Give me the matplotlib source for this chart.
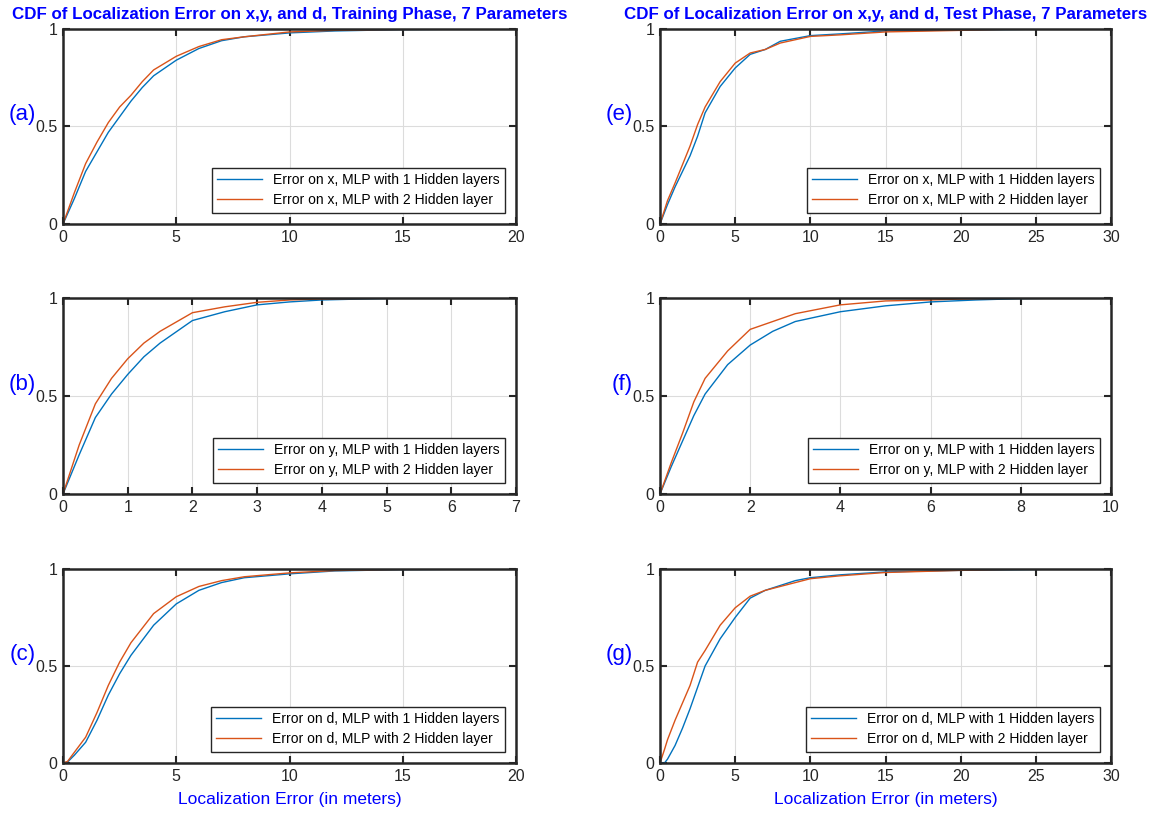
import matplotlib
matplotlib.use('Agg')
import matplotlib.pyplot as plt

plt.rcParams['font.family'] = ['Liberation Sans', 'DejaVu Sans']

# ---- data (CDF points) ----
# (a) training, error on x
a_x1 = [0, 0.5, 1, 1.5, 2, 2.5, 3, 3.5, 4, 5, 6, 7, 8, 10, 12, 15, 18.8]
a_y1 = [0, 0.13, 0.27, 0.37, 0.47, 0.55, 0.63, 0.70, 0.76, 0.84, 0.90, 0.94, 0.96, 0.98, 0.99, 0.997, 1.0]
a_x2 = [0, 0.5, 1, 1.5, 2, 2.5, 3, 3.5, 4, 5, 6, 7, 8, 10, 12, 15, 19.0]
a_y2 = [0, 0.16, 0.31, 0.42, 0.52, 0.60, 0.66, 0.73, 0.79, 0.86, 0.91, 0.945, 0.96, 0.985, 0.993, 0.998, 1.0]

# (b) training, error on y
b_x1 = [0, 0.25, 0.5, 0.75, 1, 1.25, 1.5, 2, 2.5, 3, 3.5, 4, 5, 6, 6.9]
b_y1 = [0, 0.20, 0.39, 0.51, 0.61, 0.70, 0.77, 0.885, 0.93, 0.965, 0.98, 0.99, 0.998, 1.0, 1.0]
b_x2 = [0, 0.25, 0.5, 0.75, 1, 1.25, 1.5, 2, 2.5, 3, 3.5, 4, 5, 6, 7]
b_y2 = [0, 0.25, 0.46, 0.59, 0.69, 0.77, 0.83, 0.925, 0.955, 0.978, 0.99, 0.995, 0.999, 1.0, 1.0]

# (c) training, error on d
c_x1 = [0, 0.2, 0.5, 1, 1.5, 2, 2.5, 3, 4, 5, 6, 7, 8, 10, 12, 15, 19.2]
c_y1 = [0, 0.005, 0.04, 0.107, 0.22, 0.35, 0.46, 0.555, 0.71, 0.82, 0.89, 0.93, 0.955, 0.975, 0.99, 0.997, 1.0]
c_x2 = [0, 0.2, 0.5, 1, 1.5, 2, 2.5, 3, 4, 5, 6, 7, 8, 10, 12, 15, 19.2]
c_y2 = [0, 0.008, 0.055, 0.133, 0.26, 0.40, 0.52, 0.62, 0.77, 0.857, 0.91, 0.94, 0.96, 0.98, 0.992, 0.998, 1.0]

# (e) test, error on x
e_x1 = [0, 0.5, 1, 2, 2.5, 3, 4, 5, 6, 7, 8, 10, 12, 15, 20, 26.3]
e_y1 = [0, 0.10, 0.19, 0.35, 0.45, 0.57, 0.705, 0.80, 0.87, 0.895, 0.937, 0.966, 0.975, 0.99, 0.995, 1.0]
e_x2 = [0, 0.5, 1, 2, 2.5, 3, 4, 5, 6, 7, 8, 10, 12, 15, 20, 23.8]
e_y2 = [0, 0.12, 0.21, 0.40, 0.51, 0.60, 0.73, 0.825, 0.877, 0.895, 0.928, 0.962, 0.97, 0.985, 0.993, 1.0]

# (f) test, error on y
f_x1 = [0, 0.25, 0.5, 0.75, 1, 1.5, 2, 2.5, 3, 4, 5, 6, 7, 8, 9.15]
f_y1 = [0, 0.14, 0.27, 0.40, 0.51, 0.66, 0.76, 0.83, 0.88, 0.93, 0.96, 0.98, 0.99, 0.997, 1.0]
f_x2 = [0, 0.25, 0.5, 0.75, 1, 1.5, 2, 2.5, 3, 4, 5, 6, 7, 8.3]
f_y2 = [0, 0.16, 0.31, 0.47, 0.59, 0.73, 0.84, 0.88, 0.92, 0.965, 0.985, 0.99, 0.997, 1.0]

# (g) test, error on d
g_x1 = [0, 0.3, 0.5, 1, 1.5, 2, 2.5, 3, 4, 5, 6, 7, 8, 9, 10, 12, 15, 20, 27.1]
g_y1 = [0, 0.0, 0.02, 0.09, 0.18, 0.28, 0.39, 0.50, 0.64, 0.75, 0.85, 0.89, 0.915, 0.94, 0.955, 0.97, 0.985, 0.993, 1.0]
g_x2 = [0, 0.3, 0.5, 1, 1.5, 2, 2.5, 3, 4, 5, 6, 7, 8, 9, 10, 12, 15, 20, 24.6]
g_y2 = [0, 0.07, 0.12, 0.22, 0.31, 0.40, 0.52, 0.58, 0.71, 0.80, 0.86, 0.89, 0.91, 0.93, 0.95, 0.965, 0.982, 0.993, 1.0]

panels = [
    ('a', 'x', a_x1, a_y1, a_x2, a_y2, 20, [0, 5, 10, 15, 20]),
    ('b', 'y', b_x1, b_y1, b_x2, b_y2, 7, [0, 1, 2, 3, 4, 5, 6, 7]),
    ('c', 'd', c_x1, c_y1, c_x2, c_y2, 20, [0, 5, 10, 15, 20]),
    ('e', 'x', e_x1, e_y1, e_x2, e_y2, 30, [0, 5, 10, 15, 20, 25, 30]),
    ('f', 'y', f_x1, f_y1, f_x2, f_y2, 10, [0, 2, 4, 6, 8, 10]),
    ('g', 'd', g_x1, g_y1, g_x2, g_y2, 30, [0, 5, 10, 15, 20, 25, 30]),
]

titles = ['CDF of Localization Error on x,y, and d, Training Phase, 7 Parameters',
          'CDF of Localization Error on x,y, and d, Test Phase, 7 Parameters']

BLUE = '#0072BD'
ORANGE = '#D95319'

W, H = 1155, 822
fig = plt.figure(figsize=(W / 100, H / 100), dpi=100)

# axes rectangles in pixels: (left, right) / (top, bottom)
col_px = [(63, 516), (660, 1111)]
row_px = [(29, 224), (298, 494), (569, 763)]

for i, (tag, var, x1, y1, x2, y2, xmax, xt) in enumerate(panels):
    col, row = divmod(i, 3)
    l, r = col_px[col]
    t, b = row_px[row]
    ax = fig.add_axes([l / W, 1 - b / H, (r - l) / W, (b - t) / H])
    ax.plot(x1, y1, color=BLUE, lw=1.0, label=f'Error on {var}, MLP with 1 Hidden layers')
    ax.plot(x2, y2, color=ORANGE, lw=1.0, label=f'Error on {var}, MLP with 2 Hidden layer')
    ax.set_xlim(0, xmax)
    ax.set_ylim(0, 1)
    ax.set_xticks(xt)
    ax.set_yticks([0, 0.5, 1])
    ax.set_yticklabels(['0', '0.5', '1'])
    ax.grid(True, color='#dcdcdc', lw=0.8)
    ax.tick_params(direction='in', top=True, right=True, labelsize=11.5,
                   colors='#262626', width=1.5, length=5, pad=4)
    for s in ax.spines.values():
        s.set_linewidth(1.8)
        s.set_color('#262626')
    leg = ax.legend(loc='lower right', fontsize=10, fancybox=False,
                    edgecolor='#262626', framealpha=1, handlelength=3.2,
                    borderaxespad=0.8, labelspacing=0.45)
    leg.get_frame().set_linewidth(1.0)
    ax.text(-0.06, 0.56, f'({tag})', transform=ax.transAxes, color='blue',
            fontsize=16, ha='right', va='center')
    if row == 0:
        fig.text((l + r) / 2 / W, 1 - 14 / H, titles[col], color='blue',
                 fontsize=12.2, fontweight='bold', ha='center', va='center')
    if row == 2:
        ax.set_xlabel('Localization Error (in meters)', color='blue', fontsize=12.5, labelpad=6)

fig.savefig('out.png', dpi=100)
